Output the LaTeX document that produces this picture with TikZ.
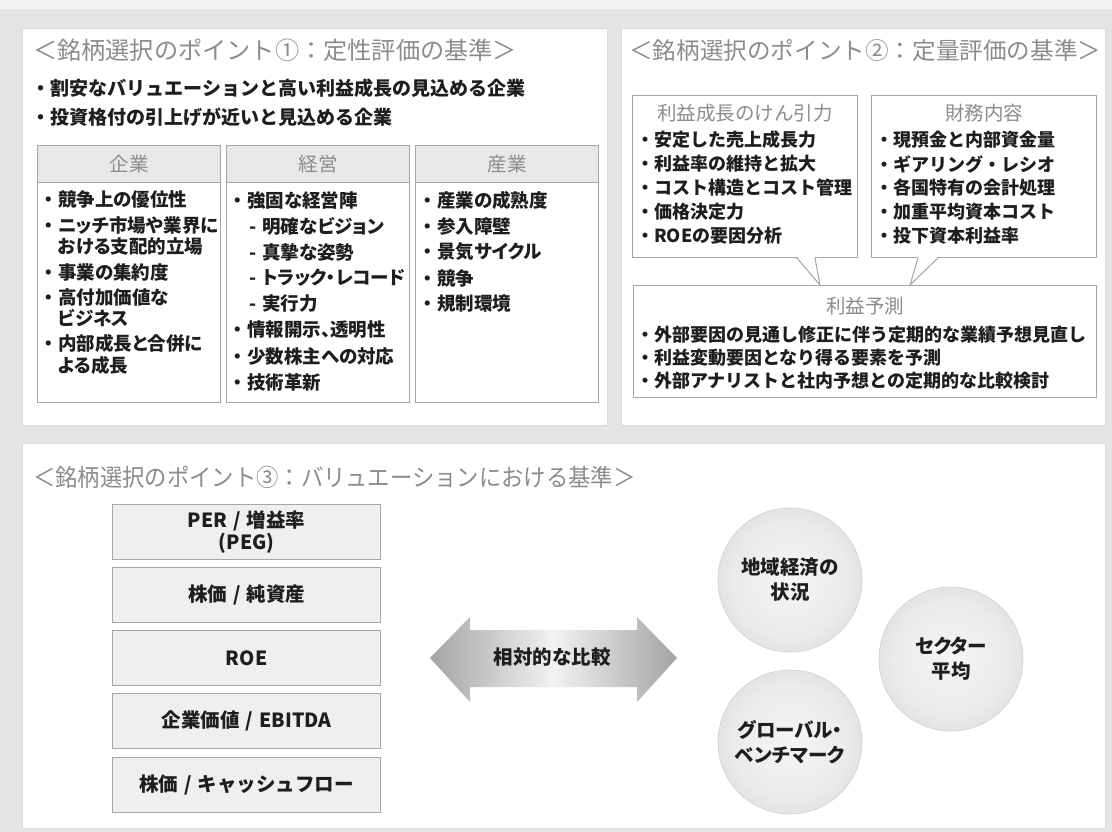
\documentclass[tikz,border=0pt]{standalone}
\usepackage{fontspec}
\setmainfont{Noto Sans CJK JP}
\newfontfamily\jpp{Noto Sans CJK JP}[RawFeature=+palt]
\usepackage{graphicx}
\usetikzlibrary{calc}
\definecolor{bg}{HTML}{E4E4E4}
\definecolor{titlegray}{HTML}{8C8C8C}
\definecolor{boxline}{HTML}{A6A6A6}
\definecolor{headfill}{HTML}{E8E8E8}
\definecolor{txt}{HTML}{1E1E1E}
\definecolor{vfill}{HTML}{EFEFEF}
\newcommand\jbul{\makebox[18pt][c]{・}}
\newcommand\jind{\hspace*{18pt}}
\newcommand\jdsh{\hspace*{20pt}-\hspace*{6pt}}
\newcommand\jsl{\hspace*{6pt}/\hspace*{6pt}}
\pgfdeclareradialshading{sphereshade}{\pgfpoint{0bp}{0bp}}{%
  color(0bp)=(white!96!black); color(20bp)=(white!92!black); color(34bp)=(white!84!black);
  color(44bp)=(white!75!black); color(50bp)=(white!64!black)}
\begin{document}
\begin{tikzpicture}[x=1pt,y=-1pt,
  panel/.style={draw=white!86!black, fill=white, line width=0.8pt, anchor=north west, inner sep=0},
  colbox/.style={draw=boxline, line width=1pt, fill=white, anchor=north west, inner sep=0},
  colhead/.style={draw=boxline, line width=1pt, fill=headfill, anchor=north west, inner sep=0},
  ttl/.style={anchor=west, inner sep=0, text=titlegray},
  headtxt/.style={inner sep=0, text=titlegray, font=\fontsize{19.5}{22}\selectfont},
  topbul/.style={anchor=west, inner sep=0, text=txt, font=\bfseries\fontsize{19}{23}\selectfont},
  itm/.style={anchor=west, inner sep=0, text=txt, font=\jpp\bfseries\fontsize{18.5}{21}\selectfont},
  itmb/.style={anchor=west, inner sep=0, text=txt, font=\bfseries\fontsize{18}{22}\selectfont},
  vbox/.style={draw=boxline, line width=1.2pt, fill=vfill, anchor=north west, inner sep=0,
     minimum width=268, minimum height=55},
  vtxt/.style={inner sep=0, text=txt, align=center, font=\bfseries\fontsize{19.5}{22}\selectfont},
  ball/.style={circle, minimum size=144, inner sep=0, shade, shading=sphereshade,
     draw=black!18, line width=0.6pt,
     align=center, text=txt, font=\jpp\bfseries\fontsize{19.5}{25}\selectfont}
]
\useasboundingbox (0,0) rectangle (1112,832);
\fill[bg] (0,0) rectangle (1112,832);
\fill[white!96!black] (0,0) rectangle (1112,9);

% panels
\node[panel, minimum width=585, minimum height=397] (p1) at (22,28) {};
\node[panel, minimum width=484, minimum height=397] (p2) at (621,28) {};
\node[panel, minimum width=1083, minimum height=385] (p3) at (22,443) {};

% ---------- panel 1
\node[ttl, font=\fontsize{24.2}{28}\selectfont] (t1) at (33,50) {＜銘柄選択のポイント①：定性評価の基準＞};
\node[topbul] (b1) at (31.5,88) {・割安なバリュエーションと高い利益成長の見込める企業};
\node[topbul] (b2) at (31.5,117) {・投資格付の引上げが近いと見込める企業};

\node[colbox, minimum width=183, minimum height=257] (c1) at (37,145) {};
\node[colbox, minimum width=183, minimum height=257] (c2) at (226,145) {};
\node[colbox, minimum width=183, minimum height=257] (c3) at (415,145) {};
\node[colhead, minimum width=183, minimum height=37] (h1) at (37,145) {};
\node[colhead, minimum width=183, minimum height=37] (h2) at (226,145) {};
\node[colhead, minimum width=183, minimum height=37] (h3) at (415,145) {};
\node[headtxt] (h1t) at (h1.center) {企業};
\node[headtxt] (h2t) at (h2.center) {経営};
\node[headtxt] (h3t) at (h3.center) {産業};

\foreach \yy/\t [count=\i] in {200/\jbul 競争上の優位性, 226/\jbul ニッチ市場や業界に, 247/\jind おける支配的立場,
  272/\jbul 事業の集約度, 297/\jbul 高付加価値な, 318/\jind ビジネス, 343/\jbul 内部成長と合併に, 365/\jind よる成長}
  \node[itm] (ka\i) at (40,\yy) {\t};
\foreach \yy/\t [count=\i] in {200/\jbul 強固な経営陣, 226/\jdsh 明確なビジョン, 252/\jdsh 真摯な姿勢,
  278/\jdsh トラック・レコード, 304/\jdsh 実行力, 330/\jbul 情報開示、透明性, 356/\jbul 少数株主への対応, 382/\jbul 技術革新}
  \node[itm] (kb\i) at (229,\yy) {\t};
\foreach \yy/\t [count=\i] in {200/\jbul 産業の成熟度, 226/\jbul 参入障壁, 252/\jbul 景気サイクル, 278/\jbul 競争, 304/\jbul 規制環境}
  \node[itm] (kc\i) at (419,\yy) {\t};

% ---------- panel 2
\node[ttl, font=\fontsize{23.6}{28}\selectfont] (t2) at (629,50) {＜銘柄選択のポイント②：定量評価の基準＞};
\node[colbox, minimum width=225, minimum height=162] (A) at (632,95) {};
\node[colbox, minimum width=225, minimum height=162] (B) at (871,95) {};
\node[colbox, minimum width=463, minimum height=112] (C) at (633,285) {};
\node[headtxt] (At) at ($(A.north)+(0,18)$) {利益成長のけん引力};
\node[headtxt] (Bt) at ($(B.north)+(0,18)$) {財務内容};
\node[headtxt] (Ct) at ($(C.north)+(0,21)$) {利益予測};
\foreach \yy/\t [count=\i] in {140/・安定した売上成長力, 164/・利益率の維持と拡大, 188/・コスト構造とコスト管理,
  212/・価格決定力, 236/・ROEの要因分析}
  \node[itmb] (ia\i) at (636,\yy) {\t};
\foreach \yy/\t [count=\i] in {140/・現預金と内部資金量, 164/・ギアリング・レシオ, 188/・各国特有の会計処理,
  212/・加重平均資本コスト, 236/・投下資本利益率}
  \node[itmb] (ib\i) at (875,\yy) {\t};
\foreach \yy/\t [count=\i] in {335/・外部要因の見通し修正に伴う定期的な業績予想見直し, 358/・利益変動要因となり得る要素を予測,
  381/・外部アナリストと社内予想との定期的な比較検討}
  \node[itmb] (ic\i) at (636,\yy) {\t};
% callout pointers
\fill[white] ($(A.south west)+(165.5,-1)$) -- ($(C.north west)+(187,0.5)$) -- ($(A.south west)+(182.5,-1)$) -- cycle;
\draw[boxline, line width=1pt] ($(A.south west)+(165,0)$) -- ($(C.north west)+(187,0)$) -- ($(A.south west)+(183,0)$);
\fill[white] ($(B.south west)+(47.5,-1)$) -- ($(C.north west)+(277,0.5)$) -- ($(B.south west)+(66.5,-1)$) -- cycle;
\draw[boxline, line width=1pt] ($(B.south west)+(47,0)$) -- ($(C.north west)+(277,0)$) -- ($(B.south west)+(67,0)$);

% ---------- panel 3
\node[ttl, font=\fontsize{24}{28}\selectfont] (t3) at (33,477) {\scalebox{0.93}[1]{＜銘柄選択のポイント③：バリュエーションにおける基準＞}};
\node[vbox] (v1) at (112,504) {};
\node[vbox] (v2) at (112,567) {};
\node[vbox] (v3) at (112,630) {};
\node[vbox] (v4) at (112,693) {};
\node[vbox] (v5) at (112,757) {};
\node[vtxt] (v1t) at (v1.center) {PER\jsl 増益率\\(PEG)};
\node[vtxt] (v2t) at (v2.center) {株価\jsl 純資産};
\node[vtxt] (v3t) at (v3.center) {ROE};
\node[vtxt] (v4t) at (v4.center) {企業価値\jsl EBITDA};
\node[vtxt] (v5t) at (v5.center) {株価\jsl キャッシュフロー};

% double arrow
\coordinate (al) at (430,658);
\coordinate (ar) at (677,658);
\shade[left color=black!36, right color=black!36, middle color=white!95!black]
  (al) -- ++(40,-41) -- ++(0,13) -- ++(167,0) -- ++(0,-13) -- (ar) -- ++(-40,44) -- ++(0,-15)
  -- ++(-167,0) -- ++(0,15) -- cycle;
\node[vtxt] (cmp) at (552,657) {相対的な比較};

% spheres
\node[ball] (s1) at (790,580) {地域経済の\\状況};
\node[ball] (s2) at (951,659) {セクター\\平均};
\node[ball] (s3) at (790,742) {グローバル・\\ベンチマーク};
\end{tikzpicture}
\end{document}
